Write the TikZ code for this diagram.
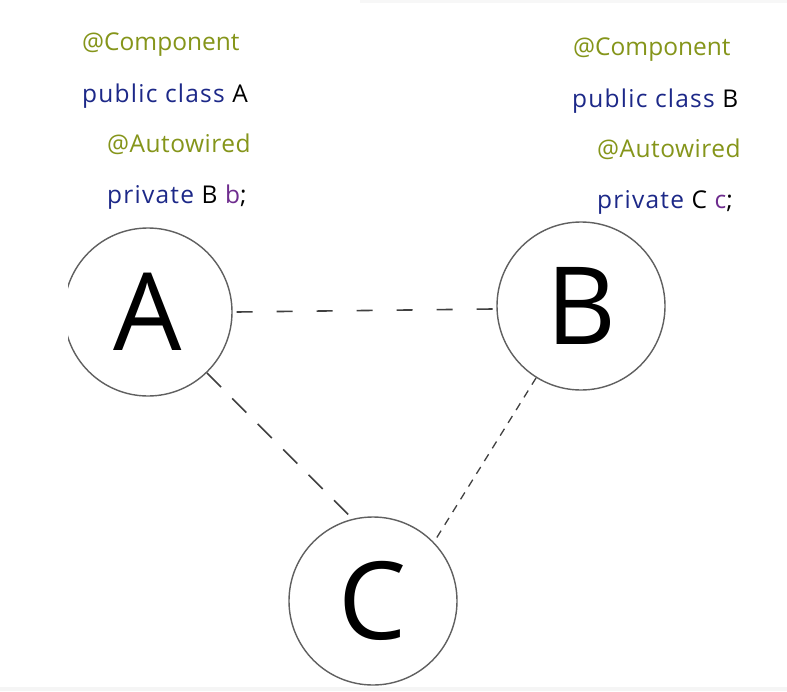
\documentclass[tikz,border=0pt]{standalone}
\usepackage{fontspec}
\setmainfont{Open Sans}
\definecolor{olive}{HTML}{85951A}
\definecolor{navy}{HTML}{1C2888}
\definecolor{purp}{HTML}{6E2C8E}
\definecolor{ring}{HTML}{606060}
\definecolor{dashc}{HTML}{404040}
\begin{document}
\begin{tikzpicture}[x=1pt,y=-1pt,
  codetext/.style={anchor=base west,inner sep=0pt,font=\fontsize{24.5}{29}\selectfont},
  wide/.style={font=\fontsize{24.5}{29}\selectfont\addfontfeature{LetterSpace=5}},
  semiwide/.style={font=\fontsize{24.5}{29}\selectfont\addfontfeature{LetterSpace=2}},
  bubble/.style={circle,draw=ring,line width=1.4pt,minimum size=168pt,inner sep=0pt,font=\fontsize{108}{118}\selectfont},
  link/.style={draw=dashc,line width=1.6pt}]
\useasboundingbox (0,0) rectangle (787,691);
\fill[white] (0,0) rectangle (787,691);
\fill[black!4] (0,687) rectangle (787,691);
\fill[black!3] (360,0) rectangle (787,3);
% left code block
\node[codetext,text=olive] (la1) at (82,50) {@Component};
\node[codetext,wide] (la2) at (82,102) {\textcolor{navy}{public class} A};
\node[codetext,semiwide,text=olive] (la3) at (107,152) {@Autowired};
\node[codetext,wide] (la4) at (107,203) {\textcolor{navy}{private} B \textcolor{purp}{b};};
% right code block
\node[codetext,text=olive] (rb1) at (573,55) {@Component};
\node[codetext,wide] (rb2) at (572,107) {\textcolor{navy}{public class} B};
\node[codetext,semiwide,text=olive] (rb3) at (597,157) {@Autowired};
\node[codetext,wide] (rb4) at (597,208) {\textcolor{navy}{private} C \textcolor{purp}{c};};
% circles
\begin{scope}
\clip (68,200) rectangle (400,420);
\node[bubble] (A) at (148,312) {A};
\end{scope}
\node[bubble] (B) at (581,306) {B};
\node[bubble] (C) at (373,601) {C};
% connectors
\draw[link,dash pattern=on 16pt off 24pt] (A.0) ++(4,0) -- (B.182);
\draw[link,dash pattern=on 20pt off 16pt] (A.-46) -- (C.104);
\draw[link,line width=1.3pt,dash pattern=on 8pt off 7pt] (B.238) -- (C.44);
\end{tikzpicture}
\end{document}
